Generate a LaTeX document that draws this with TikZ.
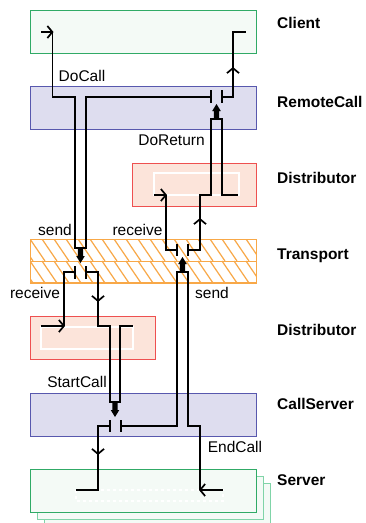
\documentclass[tikz,border=0pt]{standalone}
\usepackage{fontspec}
\setmainfont{Liberation Sans}
\usetikzlibrary{arrows.meta}
\definecolor{grnfill}{HTML}{F4FAF6}
\definecolor{grndraw}{HTML}{30AA66}
\definecolor{grnshadow}{HTML}{80D4A8}
\definecolor{bluefill}{HTML}{DEDDEF}
\definecolor{bluedraw}{HTML}{5858AE}
\definecolor{redfill}{HTML}{FCE4DA}
\definecolor{reddraw}{HTML}{EE5050}
\definecolor{orng}{HTML}{F8A848}
\tikzset{
  layerbox/.style={draw, line width=1pt, minimum width=226pt, minimum height=43pt, inner sep=0pt, anchor=north west},
  wire/.style={line width=1.7pt, black},
  barb/.style={line width=1.7pt, black, -{Straight Barb[length=5pt,width=12pt]}},
  hatchline/.style={orng, line width=1.2pt},
  lab/.style={font=\fontsize{15.5}{18}\selectfont, inner sep=0pt, anchor=base},
  layerlab/.style={font=\fontsize{15.5}{18}\selectfont\bfseries, inner sep=0pt, anchor=base west},
  fatdown/.pic={\fill[black] (-2.6,0) -- (-2.6,8) -- (-4.3,8) -- (0,15) -- (4.3,8) -- (2.6,8) -- (2.6,0) -- cycle;}
}
\begin{document}
\begin{tikzpicture}[x=1pt,y=-1pt]
\clip (0,0) rectangle (365,523);
\fill[white] (0,0) rectangle (365,523);
% boxes
\node[layerbox, fill=grnfill, draw=grndraw] (client) at (30,10) {};
\node[layerbox, fill=bluefill, draw=bluedraw] (remotecall) at (30,86) {};
\node[layerbox, fill=redfill, draw=reddraw, minimum width=124pt] (dist1) at (132,163) {};
\node[layerbox, fill=white, draw=orng] (transport) at (30,239) {};
\begin{scope}
\clip (30,239) rectangle (256,283);
\foreach \i in {-3,...,22} {
  \draw[hatchline] (30+\i*12,239) -- ++(15,22);
  \draw[hatchline] (30+\i*12,261) -- ++(15,22);
}
\end{scope}
\draw[orng, line width=1pt] (30,239) rectangle (256,283);
\draw[orng, line width=1pt] (30,261) -- (256,261);
\node[layerbox, fill=redfill, draw=reddraw, minimum width=125pt] (dist2) at (30,316) {};
\node[layerbox, fill=bluefill, draw=bluedraw] (callserver) at (30,393) {};
\node[layerbox, fill=grnfill, draw=grnshadow] (server3) at (44,483) {};
\node[layerbox, fill=grnfill, draw=grnshadow] (server2) at (37,476) {};
\node[layerbox, fill=grnfill, draw=grndraw] (server) at (30,469) {};
% white inner frames
\draw[white, line width=1.3pt] (154,173) rectangle (239,195);
\draw[white, line width=1.3pt] (41,327) rectangle (133,349);
\draw[white, line width=1.3pt, dashed] (76,490) rectangle (223,501);
% DoCall
\draw[barb] (41,32) -- (53.5,32);
\draw[wire] (52.5,32) -- (52.5,97) -- (75,97) -- (75,248) -- (86,248) -- (86,97) -- (211,97);
% RemoteCall junction
\draw[wire] (211,90) -- (211,103);
\draw[wire] (222,90) -- (222,103);
\draw[wire] (222,97) -- (233,97) -- (233,32) -- (246,32);
\draw[barb] (233,76) -- (233,67);
\pic[rotate=180] at (216.5,119) {fatdown};
% Distributor (top) / DoReturn
\draw[wire] (188,250) -- (200,250) -- (200,195) -- (211,195) -- (211,119) -- (222,119) -- (222,195) -- (238,195);
\draw[barb] (200,227) -- (200,218);
\draw[barb] (154,195) -- (167,195);
\draw[wire] (166,195) -- (166,250) -- (177,250);
\draw[wire] (177,244) -- (177,256);
\draw[wire] (188,244) -- (188,256);
\pic[rotate=180] at (182.5,272) {fatdown};
% Transport left
\pic at (80.5,248) {fatdown};
\draw[wire] (75,266) -- (75,279);
\draw[wire] (86,266) -- (86,279);
\draw[wire] (75,272) -- (64,272) -- (64,326);
\draw[barb] (41,326) -- (65,326);
\draw[wire] (86,272) -- (98,272) -- (98,326) -- (110,326) -- (110,402) -- (120,402) -- (120,326) -- (133,326);
\draw[barb] (98,293) -- (98,302);
% CallServer
\pic at (115,402) {fatdown};
\draw[wire] (110,420) -- (110,432);
\draw[wire] (121,420) -- (121,432);
\draw[wire] (110,426) -- (98,426) -- (98,490) -- (76,490);
\draw[barb] (98,446) -- (98,455);
\draw[wire] (121,426) -- (177,426) -- (177,272) -- (188,272) -- (188,426) -- (200,426) -- (200,490);
\draw[barb] (223,490) -- (199,490);
% labels
\node[lab] (lDoCall) at (82,81) {DoCall};
\node[lab] (lDoReturn) at (171.5,145) {DoReturn};
\node[lab] (lSendA) at (55,235) {send};
\node[lab] (lRecvA) at (137.5,235) {receive};
\node[lab] (lRecvB) at (35,298.5) {receive};
\node[lab] (lSendB) at (212,298.5) {send};
\node[lab] (lStartCall) at (77,387) {StartCall};
\node[lab] (lEndCall) at (235,452) {EndCall};
\node[layerlab] (tClient) at (277,28) {Client};
\node[layerlab] (tRemoteCall) at (277,107) {RemoteCall};
\node[layerlab] (tDistA) at (277,183) {Distributor};
\node[layerlab] (tTransport) at (277,259) {Transport};
\node[layerlab] (tDistB) at (277,335) {Distributor};
\node[layerlab] (tCallServer) at (277,409) {CallServer};
\node[layerlab] (tServer) at (277,485) {Server};
\end{tikzpicture}
\end{document}
